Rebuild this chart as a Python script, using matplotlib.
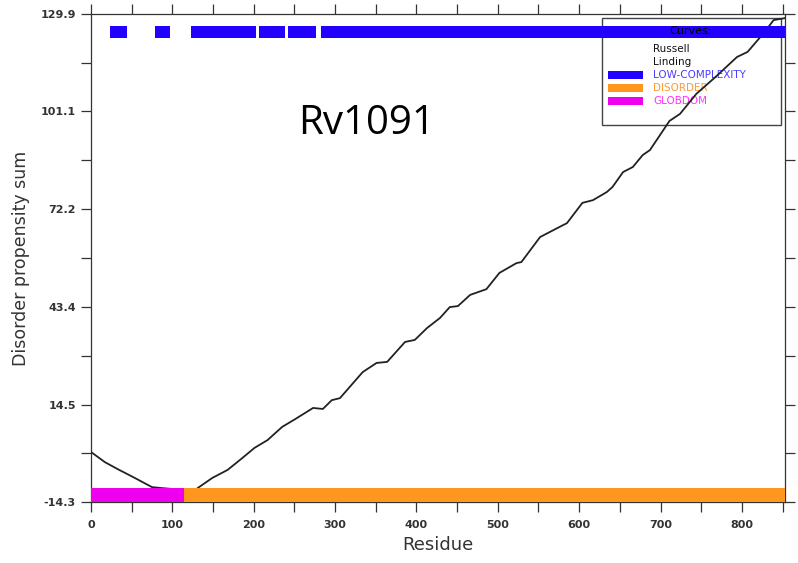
import matplotlib
matplotlib.use("Agg")
import matplotlib.pyplot as plt
from matplotlib.patches import Rectangle

# disorder propensity sum curve
residue = [0, 17, 33, 54, 75, 88, 103, 115, 122, 131, 149, 168, 186, 201, 217,
           235, 251, 273, 285, 296, 306, 318, 334, 351, 364, 386, 398, 413, 429,
           441, 451, 466, 486, 502, 523, 529, 552, 576, 585, 604, 617, 634, 641,
           654, 666, 678, 687, 711, 724, 744, 769, 794, 807, 827, 839, 853]
prop_sum = [0.5, -2.5, -4.6, -7.2, -9.9, -10.2, -10.5, -12.8, -13.4, -10.2, -7.2,
            -4.8, -1.3, 1.7, 4.0, 7.9, 10.2, 13.5, 13.2, 15.8, 16.4, 19.7, 24.1,
            26.8, 27.1, 33.0, 33.6, 37.1, 40.1, 43.3, 43.6, 46.9, 48.6, 53.4, 56.3,
            56.6, 64.0, 67.0, 68.1, 74.1, 74.9, 77.3, 78.8, 83.2, 84.7, 88.2, 89.7,
            98.3, 100.4, 106.3, 111.6, 117.2, 118.7, 124.3, 128.1, 128.7]

# segments (start, end) in residues
low_complexity = [(23, 44), (79, 97), (123, 203), (206, 238), (242, 276), (283, 853)]
disorder = [(114, 853)]
globdom = [(0, 114)]

seq_len = 853
y_ticks = [-14.3, 14.5, 43.4, 72.2, 101.1, 129.9]
x_ticks = [0, 100, 200, 300, 400, 500, 600, 700, 800]

fig = plt.figure(figsize=(7.98, 5.63), dpi=100)
ax = fig.add_axes([0.114, 0.1083, 0.8697, 0.8668])

ax.plot(residue, prop_sum, color="#222222", lw=1.3, zorder=3)

for s, e in low_complexity:
    ax.add_patch(Rectangle((s, 122.8), e - s, 3.6, color="#2200ff", lw=0, zorder=4))
for s, e in disorder:
    ax.add_patch(Rectangle((s, -14.3), e - s, 4.1, color="#ff961e", lw=0, zorder=4))
for s, e in globdom:
    ax.add_patch(Rectangle((s, -14.3), e - s, 4.1, color="#ee00ee", lw=0, zorder=4))

ax.set_xlim(0, seq_len)
ax.set_ylim(-14.3, 129.9)
ax.set_yticks(y_ticks)
ax.set_yticklabels([f"{v:.1f}" for v in y_ticks])
ax.set_yticks([(a + b) / 2 for a, b in zip(y_ticks[:-1], y_ticks[1:])], minor=True)
ax.set_xticks(x_ticks)
ax.set_xticks(range(50, seq_len, 100), minor=True)
ax.tick_params(which="both", direction="out", length=7, width=0.9, color="#333333",
               top=True, right=True, labelsize=8, labelcolor="#333333")
ax.tick_params(axis="x", pad=6)
ax.tick_params(axis="y", pad=4)
for lab in ax.get_xticklabels() + ax.get_yticklabels():
    lab.set_fontweight("bold")
for sp in ax.spines.values():
    sp.set_color("#333333")
    sp.set_linewidth(0.9)

ax.set_xlabel("Residue", fontsize=13, color="#333333", labelpad=4)
ax.set_ylabel("Disorder propensity sum", fontsize=12.5, color="#333333", labelpad=7)


def fpos(x, y):
    # pixel position in the 798x563 picture -> figure fraction
    return x / 798, (563 - y) / 563


# legend box, drawn by hand like the original (sits under curve and bars)
bx0, by0 = fpos(602, 125)
bx1, by1 = fpos(781, 18)
ax.add_patch(Rectangle((bx0, by0), bx1 - bx0, by1 - by0, transform=fig.transFigure,
                       facecolor="none", edgecolor="#444444", lw=1.0, zorder=1,
                       clip_on=False))
tx, ty = fpos(691, 31)
ax.text(tx, ty, "Curves:", transform=fig.transFigure, ha="center", va="center",
        fontsize=8, color="black", zorder=6)
for label, y in [("Russell", 49), ("Linding", 62)]:
    tx, ty = fpos(653, y)
    ax.text(tx, ty, label, transform=fig.transFigure, ha="left", va="center",
            fontsize=7.5, color="#111111", zorder=2)
for label, y, fc, tc in [("LOW-COMPLEXITY", 75, "#2200ff", "#4a3dff"),
                         ("DISORDER", 88, "#ff961e", "#ff9933"),
                         ("GLOBDOM", 101, "#ee00ee", "#ff33ff")]:
    px0, py0 = fpos(608, y + 4)
    px1, py1 = fpos(643, y - 4)
    ax.add_patch(Rectangle((px0, py0), px1 - px0, py1 - py0, transform=fig.transFigure,
                           color=fc, lw=0, zorder=2, clip_on=False))
    tx, ty = fpos(653, y)
    ax.text(tx, ty, label, transform=fig.transFigure, ha="left", va="center",
            fontsize=7.5, color=tc, zorder=2)

tx, ty = fpos(367, 124)
fig.text(tx, ty, "Rv1091", ha="center", va="center", fontsize=29, family="Open Sans",
         color="black", zorder=6)

fig.savefig("out.png", dpi=100)
